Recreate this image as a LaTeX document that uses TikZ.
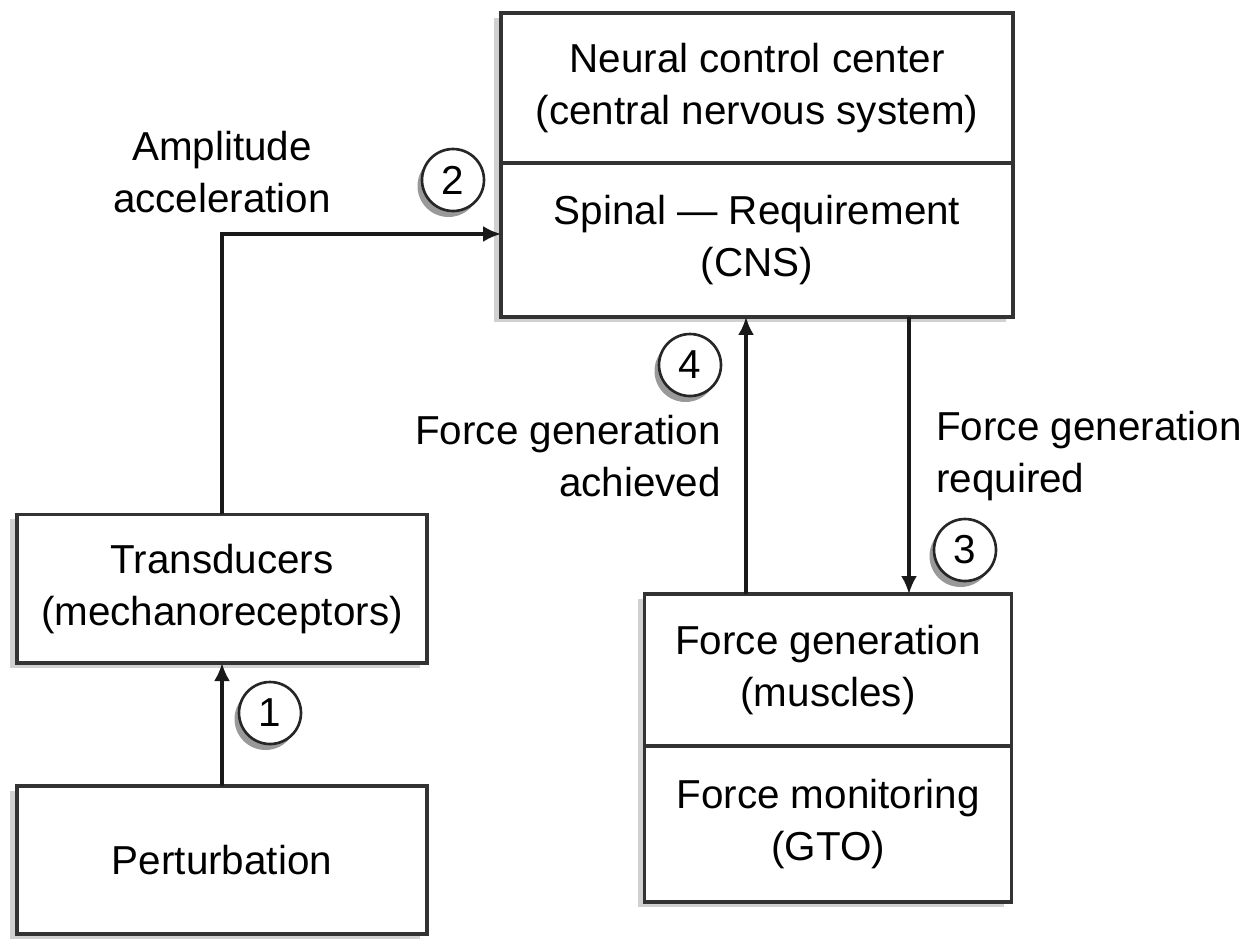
\documentclass[tikz,border=0pt]{standalone}
\usepackage{fontspec}
\setmainfont{Liberation Sans}
\usepackage{tikz}
\usetikzlibrary{positioning, arrows.meta, shadows}
\tikzstyle{block} = [rectangle, draw=black!80, line width=1.8pt, fill=white, align=center, inner sep=0pt, outer sep=0pt, drop shadow={shadow xshift=-0.14cm, shadow yshift=-0.1cm, fill=black!18, opacity=1}]
\tikzstyle{stepnum} = [circle, draw=black!85, line width=1.5pt, fill=white, minimum size=1.24cm, inner sep=0pt, drop shadow={shadow xshift=-0.09cm, shadow yshift=-0.12cm, fill=black!40, opacity=1}]
\tikzstyle{link} = [line width=1.8pt, draw=black!90, -{Latex[length=0.36cm, width=0.32cm]}]

\begin{document}
\begin{tikzpicture}[x=0.02cm, y=-0.02cm, every node/.style={text=black, font=\fontsize{23}{29.6}\selectfont}]
	\useasboundingbox (0,0) rectangle (1250,938);

	\node[block, minimum width=8.2cm, minimum height=2.96cm] (perturb) at (222,860) {Perturbation};
	\node[block, minimum width=8.2cm, minimum height=2.98cm, above=2.46cm of perturb] (transd) {Transducers\\(mechanoreceptors)};

	\node[block, minimum width=10.24cm, minimum height=3.0cm] (cnsTop) at (757,88) {Neural control center\\(central nervous system)};
	\node[block, minimum width=10.24cm, minimum height=3.08cm, below=0pt of cnsTop] (cnsBot) {Spinal --- Requirement\\(CNS)};

	\node[block, minimum width=7.34cm, minimum height=3.04cm] (musTop) at (828,670) {Force generation\\(muscles)};
	\node[block, minimum width=7.34cm, minimum height=3.12cm, below=0pt of musTop] (musBot) {Force monitoring\\(GTO)};

	% labels
	\node[align=center] (ampl) at (222,172) {Amplitude\\acceleration};
	\node[align=right, anchor=east] (achv) at (727,456) {Force generation\\achieved};
	\node[align=left, anchor=west] (reqd) at (930,456) {Force generation\\required};

	% connectors
	\draw[link] (perturb.north) -- (transd.south);
	\draw[link] (transd.north) |- ([yshift=0.12cm]cnsBot.west);
	\draw[link] ([xshift=1.62cm]musTop.north |- cnsBot.south) -- ([xshift=1.62cm]musTop.north);
	\draw[link] ([xshift=-1.64cm]musTop.north) -- ([xshift=-1.64cm]musTop.north |- cnsBot.south);

	% step numbers
	\node[stepnum] (n1) at (270,713) {1};
	\node[stepnum] (n2) at (453,180) {2};
	\node[stepnum] (n3) at (965,550) {3};
	\node[stepnum] (n4) at (690,365) {4};
\end{tikzpicture}
\end{document}
